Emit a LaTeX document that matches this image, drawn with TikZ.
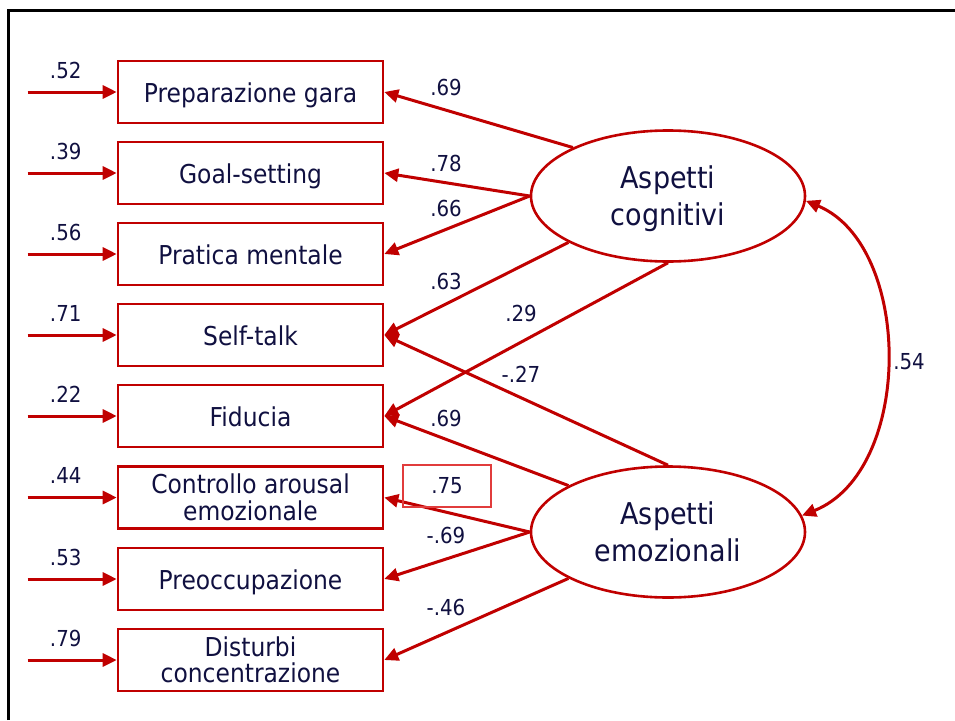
\documentclass[tikz,border=0pt]{standalone}
\usepackage{fontspec}
\setmainfont{DejaVu Sans}[FakeStretch=0.9]
\usetikzlibrary{arrows.meta,shapes.geometric,calc}
\definecolor{semred}{RGB}{192,0,0}
\definecolor{inkblue}{RGB}{16,16,64}
\definecolor{softred}{RGB}{225,60,60}

\begin{document}
\begin{tikzpicture}[x=1pt,y=-1pt,
  tip/.tip={Triangle[length=14pt,width=13pt]},
  link/.style={draw=semred, line width=3pt, -tip},
  obs/.style={draw=semred, line width=2.6pt, minimum width=265pt, minimum height=62pt,
    inner sep=0pt, align=center, font=\fontsize{26}{26.5}\selectfont, text=inkblue},
  obsone/.style={obs, text height=25pt, text depth=4pt},
  lat/.style={ellipse, draw=semred, line width=2.6pt, minimum width=274pt, minimum height=131pt,
    inner sep=0pt, align=center, font=\fontsize{30}{37}\selectfont, text=inkblue},
  coef/.style={font=\fontsize{22}{24}\selectfont, text=inkblue, inner sep=0pt},
]
\useasboundingbox (0,0) rectangle (955,720);

% outer frame (left and top edges)
\draw[line width=3pt] (8,720) -- (8,10) -- (955,10);

% observed variables
\node[obsone] (b1) at (250.5,92)  {Preparazione gara};
\node[obsone] (b2) at (250.5,173) {Goal-setting};
\node[obsone] (b3) at (250.5,254) {Pratica mentale};
\node[obsone] (b4) at (250.5,335) {Self-talk};
\node[obsone] (b5) at (250.5,416) {Fiducia};
\node[obs]    (b6) at (250.5,497.5) {Controllo arousal\\emozionale};
\node[obsone] (b7) at (250.5,579) {Preoccupazione};
\node[obs]    (b8) at (250.5,660) {Disturbi\\concentrazione};

% error terms
\foreach \i/\v in {1/.52,2/.39,3/.56,4/.71,5/.22,6/.44,7/.53,8/.79}{
  \coordinate (e\i) at ($(b\i.west)+(-89,0)$);
  \draw[link] (e\i) -- (b\i.west);
  \node[coef] (err\i) at ($(e\i)+(38,-22)$) {\v};
}

% latent factors
\node[lat, text depth=0pt] (cog) at (668,196) {Aspetti\\cognitivi};
\node[lat] (emo) at (668,532) {Aspetti\\emozionali};

% loadings
\draw[link] (cog.153) -- (b1.east);
\draw[link] (cog.180) -- (b2.east);
\draw[link] (cog.180) -- (b3.east);
\draw[link] (cog.205) -- (b4.east);
\draw[link] (cog.270) -- (b5.east);
\draw[link] (emo.155) -- (b5.east);
\draw[link] (emo.90)  -- (b4.east);
\draw[link] (emo.180) -- (b6.east);
\draw[link] (emo.180) -- (b7.east);
\draw[link] (emo.205) -- (b8.east);

\node[coef] (l1) at (446,87)  {.69};
\node[coef] (l2) at (446,163) {.78};
\node[coef] (l3) at (446,208) {.66};
\node[coef] (l4) at (446,281) {.63};
\node[coef] (l5) at (521,313) {.29};
\node[coef] (l6) at (521,374) {-.27};
\node[coef] (l7) at (446,418) {.69};
\node[coef, draw=softred, line width=1.2pt, minimum width=88pt, minimum height=42pt]
  (l8) at (447,486) {.75};
\node[coef] (l9) at (446,535) {-.69};
\node[coef] (l10) at (446,607) {-.46};

% factor correlation
\draw[draw=semred, line width=3pt, tip-tip]
  (cog.-2) .. controls +(107,45) and +(112,-45) .. (emo.7);
\node[coef] (corr) at (909,362) {.54};
\end{tikzpicture}
\end{document}
